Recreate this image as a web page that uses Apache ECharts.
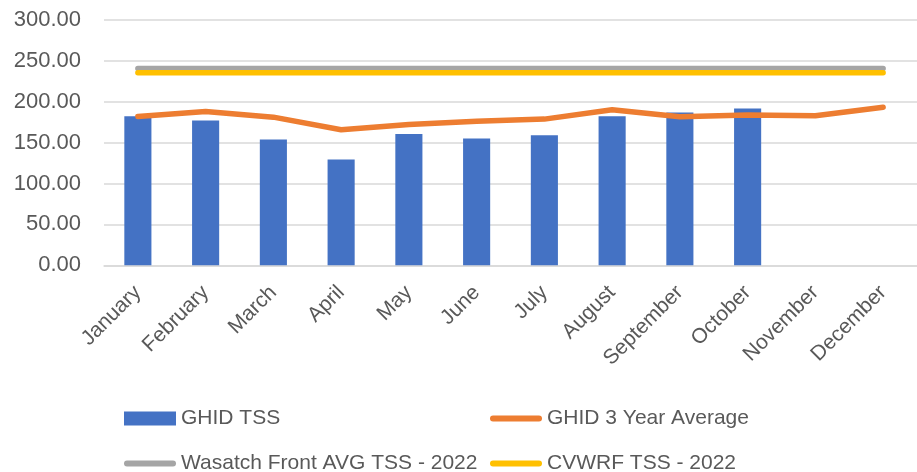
<!DOCTYPE html>
<html>
<head>
<meta charset="utf-8">
<script src="https://cdn.jsdelivr.net/npm/echarts@6/dist/echarts.min.js"></script>
<style>
  html, body { margin: 0; padding: 0; background: #fff; }
  #chart { width: 917px; height: 472px; }
</style>
</head>
<body>
<div id="chart"></div>
<script>
    // data
    var months = ['January', 'February', 'March', 'April', 'May', 'June', 'July',
        'August', 'September', 'October', 'November', 'December'];
    var ghidTss = [182.4, 177.2, 153.7, 129.3, 160.5, 155.2, 158.9, 182.4, 187.0, 191.8, null, null];
    var ghidAvg = [182.0, 188.2, 181.2, 165.8, 172.3, 176.3, 178.8, 190.2, 181.7, 183.7, 182.9, 193.4];
    var wasatch = [240.6, 240.6, 240.6, 240.6, 240.6, 240.6, 240.6, 240.6, 240.6, 240.6, 240.6, 240.6];
    var cvwrf = [235.4, 235.4, 235.4, 235.4, 235.4, 235.4, 235.4, 235.4, 235.4, 235.4, 235.4, 235.4];
    var seriesNames = ['GHID TSS', 'GHID 3 Year Average', 'Wasatch Front AVG TSS - 2022', 'CVWRF TSS - 2022'];

    var font = 'Liberation Sans';
    var txt = '#595959';
    var capsule = 'path://M3,0 L49,0 A3,3 0 0 1 49,6 L3,6 A3,3 0 0 1 3,0 Z';

    //图例: one per item so the columns line up
    function legendAt(name, icon, h, left, top) {
        return {
            data: [{ name: name, icon: icon }],
            left: left,
            top: top,
            padding: 0,
            itemWidth: 52,
            itemHeight: h,
            itemGap: 0,
            textStyle: { color: txt, fontFamily: font, fontSize: 21 }
        };
    }

    echarts.init(document.getElementById('chart')).setOption({
        animation: false,
        grid: {
            left: 104,
            top: 20,
            width: 824,
            height: 245.3
        },
        legend: [
            legendAt(seriesNames[0], 'rect', 14, 124, 408),
            legendAt(seriesNames[1], capsule, 6, 490, 408),
            legendAt(seriesNames[2], capsule, 6, 124, 453),
            legendAt(seriesNames[3], capsule, 6, 490, 453)
        ],
        xAxis: {
            type: 'category',
            data: months,
            axisLine: { lineStyle: { color: '#D9D9D9', width: 1.5 } },
            axisTick: { show: false },
            axisLabel: {
                rotate: 45,
                interval: 0,
                margin: 24,
                color: txt,
                fontFamily: font,
                fontSize: 21
            }
        },
        yAxis: {
            type: 'value',
            min: 0,
            max: 300,
            interval: 50,
            axisLine: { show: false },
            axisTick: { show: false },
            splitLine: { lineStyle: { color: '#D9D9D9', width: 1.5 } },
            axisLabel: {
                margin: 23,
                color: txt,
                fontFamily: font,
                fontSize: 22,
                formatter: function(v) { return v.toFixed(2); }
            }
        },
        series: [{
            name: seriesNames[0],
            type: 'bar',
            data: ghidTss,
            barWidth: '40%',
            itemStyle: { color: '#4472C4' }
        }, {
            name: seriesNames[1],
            type: 'line',
            data: ghidAvg,
            symbol: 'none',
            lineStyle: { color: '#ED7D31', width: 5.5, cap: 'round', join: 'round' },
            itemStyle: { color: '#ED7D31' }
        }, {
            name: seriesNames[2],
            type: 'line',
            data: wasatch,
            symbol: 'none',
            lineStyle: { color: '#A5A5A5', width: 5.5, cap: 'round' },
            itemStyle: { color: '#A5A5A5' }
        }, {
            name: seriesNames[3],
            type: 'line',
            data: cvwrf,
            symbol: 'none',
            lineStyle: { color: '#FFC000', width: 5.5, cap: 'round' },
            itemStyle: { color: '#FFC000' }
        }]
    });
</script>
</body>
</html>
